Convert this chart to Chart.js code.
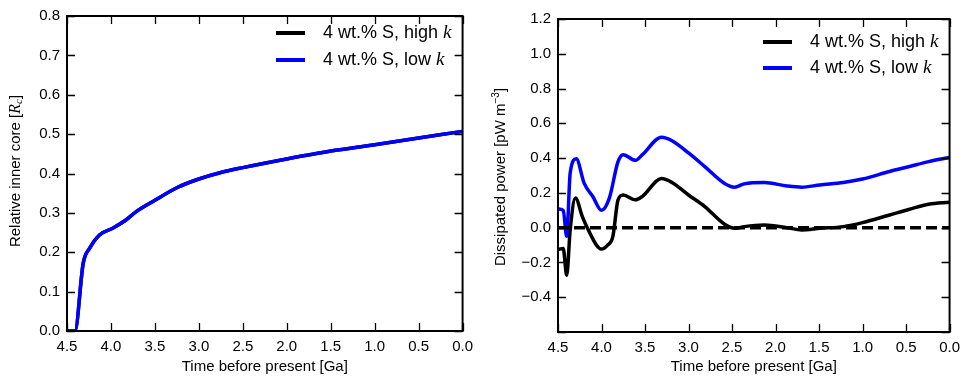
<!DOCTYPE html>
<html lang="en">
<head>
<meta charset="UTF-8" />
<title>Inner core growth and dissipated power</title>
<script src="https://cdn.jsdelivr.net/npm/chart.js"></script>
<style>
  body { margin: 0; background: #fff; width: 967px; height: 381px; position: relative; overflow: hidden; }
  canvas { position: absolute; top: 0; }
  #coreChart { left: 0; }
  #powerChart { left: 480px; }
</style>
</head>
<body>
<canvas id="coreChart" width="480" height="381"></canvas>
<canvas id="powerChart" width="487" height="381"></canvas>
<script>
// series names (an italic k is appended when drawn)
const seriesLabels = ["4 wt.% S, high", "4 wt.% S, low"];
const seriesColors = ["#000000", "#0000ff"];

// left panel: relative inner core radius
const coreTime = [4.5, 4.41, 4.315, 4.24, 4.13, 3.98, 3.83, 3.72, 3.5, 3.24, 3.0, 2.76, 2.5, 2.0, 1.5, 1.0, 0.5, 0.0];
const coreHigh = [0, 0, 0.173, 0.211, 0.244, 0.261, 0.282, 0.302, 0.332, 0.365, 0.386, 0.402, 0.415, 0.437, 0.457, 0.473, 0.49, 0.507];
const coreLow  = [0, 0, 0.173, 0.211, 0.244, 0.261, 0.282, 0.302, 0.332, 0.365, 0.386, 0.402, 0.415, 0.437, 0.457, 0.473, 0.49, 0.507];

// right panel: dissipated power
const powerTimeHigh = [4.5, 4.44, 4.40, 4.36, 4.30, 4.22, 4.17, 4.0, 3.93, 3.87, 3.81, 3.75, 3.61, 3.53, 3.31, 3.19, 3.0, 2.81, 2.59, 2.47, 2.36, 2.13, 1.87, 1.70, 1.49, 1.22, 1.0, 0.69, 0.46, 0.24, 0.0];
const powerHigh     = [-0.126, -0.12, -0.273, -0.013, 0.17, 0.063, 0.006, -0.123, -0.10, -0.052, 0.16, 0.188, 0.16, 0.18, 0.283, 0.26, 0.188, 0.12, 0.021, -0.004, 0.006, 0.015, 0.0, -0.013, -0.004, 0.006, 0.029, 0.073, 0.106, 0.135, 0.146];
const powerTimeLow  = [4.5, 4.44, 4.40, 4.36, 4.29, 4.20, 4.10, 4.0, 3.91, 3.81, 3.75, 3.61, 3.53, 3.31, 3.19, 3.0, 2.81, 2.59, 2.47, 2.36, 2.13, 1.87, 1.70, 1.49, 1.22, 1.0, 0.69, 0.46, 0.24, 0.0];
const powerLow      = [0.108, 0.10, -0.05, 0.315, 0.396, 0.256, 0.179, 0.10, 0.17, 0.38, 0.42, 0.387, 0.42, 0.52, 0.50, 0.43, 0.35, 0.256, 0.233, 0.252, 0.26, 0.24, 0.233, 0.246, 0.26, 0.28, 0.323, 0.352, 0.38, 0.404];
const zeroTime = [4.5, 0.0];
const zeroPower = [0, 0];

const sans = "'Liberation Sans', Arial, sans-serif";
const serifItalic = "italic 19px 'Liberation Serif', serif";

function pts(xs, ys) {
  return xs.map((x, i) => ({ x: x, y: ys[i] }));
}

function fmt(v) {
  return v.toFixed(1).replace("-", "\u2212");
}

// draw a row of text pieces in different fonts, optionally rotated
function drawRich(ctx, x, y, parts, rotate, align) {
  ctx.save();
  ctx.translate(x, y);
  if (rotate) ctx.rotate(-Math.PI / 2);
  let total = 0;
  parts.forEach(p => { ctx.font = p.font; total += ctx.measureText(p.text).width; });
  let cx = align === "left" ? 0 : -total / 2;
  ctx.fillStyle = "#000";
  ctx.textBaseline = "middle";
  ctx.textAlign = "left";
  parts.forEach(p => {
    ctx.font = p.font;
    ctx.fillText(p.text, cx, p.dy || 0);
    cx += ctx.measureText(p.text).width;
  });
  ctx.restore();
}

const framePlugin = {
  id: "frame",
  afterDatasetsDraw(chart, args, opts) {
    const { ctx, chartArea: a, scales } = chart;
    ctx.save();
    ctx.strokeStyle = "#000";
    ctx.lineWidth = 1.3;
    const len = 8;
    ctx.beginPath();
    scales.x.ticks.forEach(t => {
      const px = Math.round(scales.x.getPixelForValue(t.value)) + 0.5;
      ctx.moveTo(px, a.bottom); ctx.lineTo(px, a.bottom - len);
      ctx.moveTo(px, a.top); ctx.lineTo(px, a.top + len);
    });
    scales.y.ticks.forEach(t => {
      const py = Math.round(scales.y.getPixelForValue(t.value)) + 0.5;
      ctx.moveTo(a.left, py); ctx.lineTo(a.left + len, py);
      ctx.moveTo(a.right, py); ctx.lineTo(a.right - len, py);
    });
    ctx.stroke();
    ctx.lineWidth = 2;
    ctx.strokeRect(a.left, a.top, a.width, a.height);

    // legend
    let row = 0;
    chart.data.datasets.forEach(ds => {
      if (!ds.inLegend) return;
      const y = opts.legendY + row * opts.legendGap;
      ctx.beginPath();
      ctx.strokeStyle = ds.borderColor;
      ctx.lineWidth = 4;
      ctx.moveTo(opts.legendX, y);
      ctx.lineTo(opts.legendX + 29, y);
      ctx.stroke();
      drawRich(ctx, opts.legendX + 47, y, [
        { text: ds.label + " ", font: "18px " + sans },
        { text: "k", font: serifItalic }
      ], false, "left");
      row++;
    });

    // y axis title
    drawRich(ctx, opts.titleX, opts.titleY, opts.yTitle, true, "center");
    ctx.restore();
  }
};

function makeChart(id, datasets, yMin, yMax, yStep, yWidth, xHeight, pad, frame, hideLabel) {
  return new Chart(document.getElementById(id), {
    type: "line",
    data: { datasets: datasets },
    options: {
      responsive: false,
      animation: false,
      layout: { padding: pad },
      plugins: { legend: { display: false }, tooltip: { enabled: false }, frame: frame },
      elements: { point: { radius: 0 }, line: { borderWidth: 3.5, cubicInterpolationMode: "monotone" } },
      scales: {
        x: {
          type: "linear", reverse: true, min: 0, max: 4.5,
          grid: { display: false, drawTicks: false },
          border: { display: false },
          ticks: { stepSize: 0.5, padding: 7, color: "#000", font: { family: sans, size: 15 }, callback: v => fmt(v) },
          title: { display: true, text: "Time before present [Ga]", color: "#000", font: { family: sans, size: 15 }, padding: { top: 0, bottom: 5 } },
          afterFit: s => { s.height = xHeight; }
        },
        y: {
          min: yMin, max: yMax,
          grid: { display: false, drawTicks: false },
          border: { display: false },
          ticks: {
            stepSize: yStep, padding: 7, color: "#000", font: { family: sans, size: 15 },
            callback: v => (hideLabel !== undefined && Math.abs(v - hideLabel) < 1e-6) ? "" : fmt(v)
          },
          afterFit: s => { s.width = yWidth; }
        }
      }
    },
    plugins: [framePlugin]
  });
}

makeChart("coreChart", [
  { label: seriesLabels[0], data: pts(coreTime, coreHigh), borderColor: seriesColors[0], inLegend: true, order: 2 },
  { label: seriesLabels[1], data: pts(coreTime, coreLow), borderColor: seriesColors[1], inLegend: true, order: 1 }
], 0, 0.8, 0.1, 67, 50, { top: 11, right: 8, left: 0, bottom: 0 }, {
  legendX: 276, legendY: 33, legendGap: 27,
  titleX: 16, titleY: 171,
  yTitle: [
    { text: "Relative inner core [", font: "15px " + sans },
    { text: "R", font: "italic 16px 'Liberation Serif', serif" },
    { text: "c", font: "italic 11px 'Liberation Serif', serif", dy: 3 },
    { text: "]", font: "15px " + sans }
  ]
});

makeChart("powerChart", [
  { label: seriesLabels[0], data: pts(powerTimeHigh, powerHigh), borderColor: seriesColors[0], inLegend: true, order: 3 },
  { label: seriesLabels[1], data: pts(powerTimeLow, powerLow), borderColor: seriesColors[1], inLegend: true, order: 2 },
  { label: "zero", data: pts(zeroTime, zeroPower), borderColor: "#000", borderDash: [11, 5], inLegend: false, order: 1 }
], -0.6, 1.2, 0.2, 78, 49, { top: 19, right: 13, left: 0, bottom: 0 }, {
  legendX: 283, legendY: 42, legendGap: 26,
  titleX: 21, titleY: 177,
  yTitle: [
    { text: "Dissipated power [pW m", font: "15px " + sans },
    { text: "\u22123", font: "10px " + sans, dy: -5 },
    { text: "]", font: "15px " + sans }
  ]
}, -0.6);
</script>
</body>
</html>
